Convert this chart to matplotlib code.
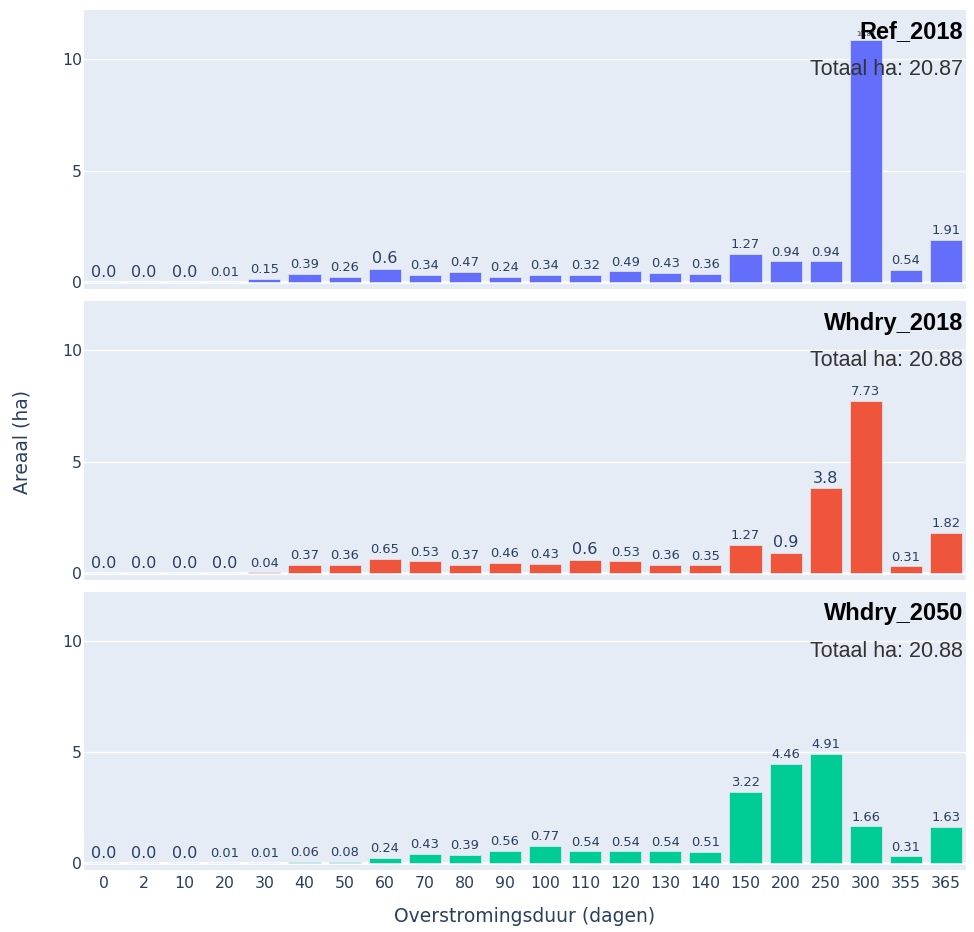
import numpy as np
import matplotlib.pyplot as plt

plt.rcParams['font.family'] = ['DejaVu Sans']

categories = ['0', '2', '10', '20', '30', '40', '50', '60', '70', '80', '90', '100',
              '110', '120', '130', '140', '150', '200', '250', '300', '355', '365']

ref_2018 = [0.0, 0.0, 0.0, 0.01, 0.15, 0.39, 0.26, 0.6, 0.34, 0.47, 0.24, 0.34,
            0.32, 0.49, 0.43, 0.36, 1.27, 0.94, 0.94, 10.87, 0.54, 1.91]
whdry_2018 = [0.0, 0.0, 0.0, 0.0, 0.04, 0.37, 0.36, 0.65, 0.53, 0.37, 0.46, 0.43,
              0.6, 0.53, 0.36, 0.35, 1.27, 0.9, 3.8, 7.73, 0.31, 1.82]
whdry_2050 = [0.0, 0.0, 0.0, 0.01, 0.01, 0.06, 0.08, 0.24, 0.43, 0.39, 0.56, 0.77,
              0.54, 0.54, 0.54, 0.51, 3.22, 4.46, 4.91, 1.66, 0.31, 1.63]

scenarios = ['Ref_2018', 'Whdry_2018', 'Whdry_2050']
totals = ['20.87', '20.88', '20.88']
series = [ref_2018, whdry_2018, whdry_2050]
colors = ['#636EFA', '#EF553B', '#00CC96']

bg = '#E5ECF6'
txt = '#2a3f5f'


def label_size(s):
    # plotly shrinks outside text to fit the bar width
    return {3: 11.5, 4: 9.4, 5: 4.8}.get(len(s), 11.5)


W, H = 974, 932
fig = plt.figure(figsize=(W / 100, H / 100), dpi=100)

# panel pixel boxes (top, bottom)
boxes = [(10, 289), (301, 580), (592, 870)]
left, right = 84, 966

x = np.arange(len(categories))
for i, (top, bot) in enumerate(boxes):
    ax = fig.add_axes([left / W, 1 - bot / H, (right - left) / W, (bot - top) / H])
    ax.set_facecolor(bg)
    vals = series[i]
    ax.bar(x, vals, width=0.8, color=colors[i], edgecolor=bg, linewidth=0.5, zorder=3)
    for xi, v in zip(x, vals):
        s = f'{v}'
        ax.annotate(s, (xi, v), xytext=(0, 2), textcoords='offset points',
                    ha='center', va='bottom', fontsize=label_size(s), color=txt, zorder=4)
    ax.set_xlim(-0.5, len(categories) - 0.5)
    ax.set_ylim(-0.3, 12.2)
    ax.set_yticks([0, 5, 10])
    ax.grid(axis='y', color='white', linewidth=1, zorder=0)
    ax.axhline(0, color='white', linewidth=2, zorder=1)
    for sp in ax.spines.values():
        sp.set_visible(False)
    ax.tick_params(axis='y', length=0, labelsize=11.3, labelcolor=txt, pad=1.5)
    ax.tick_params(axis='x', length=0, labelsize=11.3, labelcolor=txt, pad=4)
    ax.set_xticks(x)
    if i < 2:
        ax.set_xticklabels([])
    else:
        ax.set_xticklabels(categories)
        ax.set_xlabel('Overstromingsduur (dagen)', fontsize=13.5, color=txt, labelpad=12)
    ax.text(0.997, 0.921, scenarios[i], transform=ax.transAxes, ha='right', va='center',
            fontsize=17, fontweight='bold', color='black', family='Liberation Sans',
            zorder=5)
    ax.text(0.997, 0.785, f'Totaal ha: {totals[i]}', transform=ax.transAxes, ha='right',
            va='center', fontsize=15.5, color='#333333', family='Liberation Sans', zorder=5)

fig.text(22 / W, 1 - 442 / H, 'Areaal (ha)', rotation=90, ha='center', va='center',
         fontsize=13.5, color=txt)

fig.savefig('out.png', dpi=100, facecolor='white')
